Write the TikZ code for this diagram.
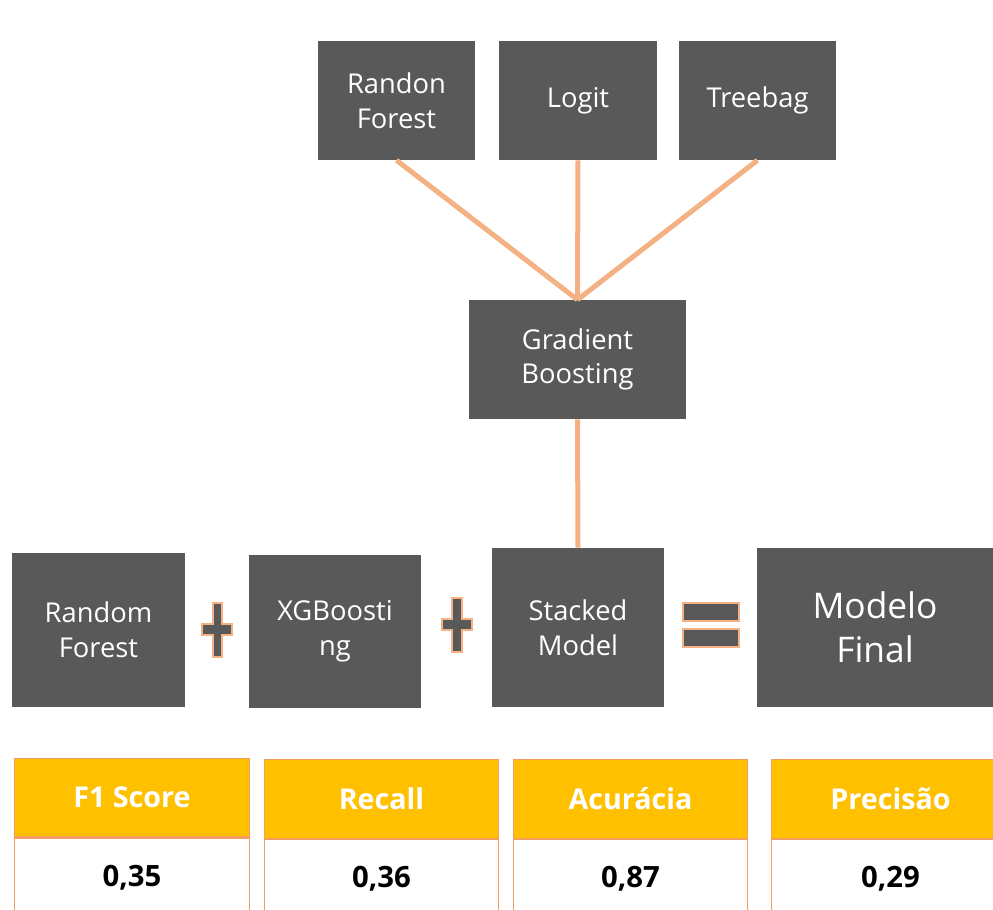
\documentclass[tikz,border=0pt]{standalone}
\usepackage{fontspec}
\setmainfont{Open Sans}
\definecolor{boxgray}{HTML}{595959}
\definecolor{linkorange}{HTML}{F4B183}
\definecolor{cellborder}{HTML}{F29D62}
\definecolor{headgold}{HTML}{FFC000}
\begin{document}
\begin{tikzpicture}[x=0.75pt,y=-0.75pt,
  model/.style={fill=boxgray,text=white,inner sep=0pt,align=center,
    font=\fontsize{20.5}{26}\selectfont},
  big/.style={model,font=\fontsize{26.5}{33}\selectfont},
  link/.style={draw=linkorange,line width=3.75pt},
  sign/.style={fill=boxgray,draw=linkorange,line width=1.6pt,line join=miter},
  head/.style={fill=headgold,draw=cellborder,line width=0.9pt,text=white,inner sep=0pt,
    minimum width=176pt,minimum height=59pt,font=\fontsize{21.5}{24}\selectfont\bfseries},
  val/.style={fill=white,draw=cellborder,line width=0.9pt,text=black,inner sep=0pt,
    minimum width=176pt,minimum height=60pt},
  num/.style={text=black,font=\fontsize{22}{24}\selectfont\bfseries}]
\clip (0,0) rectangle (993,910);

% base learners of the stacked model
\node[model,minimum width=117.75pt,minimum height=89.25pt] (rf) at (396.5,100.5) {Randon\\Forest};
\node[model,minimum width=118.5pt,minimum height=89.25pt] (lg) at (578,100.5) {Logit};
\node[model,minimum width=117.75pt,minimum height=89.25pt] (tb) at (757.5,100.5) {Treebag};

% meta learner
\node[model,minimum width=162.75pt,minimum height=89.25pt] (gb) at (577.5,359.5) {Gradient\\Boosting};

% final ensemble row
\node[model,minimum width=129.75pt,minimum height=115.5pt] (rfb) at (98.5,630) {Random\\Forest};
\node[model,minimum width=129pt,minimum height=114.75pt] (xgb) at (335,631.5) {XGBoosti\\ng};
\node[model,minimum width=129pt,minimum height=119.25pt] (sm) at (578,627.5) {Stacked\\Model};
\node[big,minimum width=177pt,minimum height=119.25pt] (mf) at (875,627.5) {Modelo\\Final};

% connectors
\draw[link] (rf.south) -- (gb.north);
\draw[link] (lg.south) -- (gb.north);
\draw[link] (tb.south) -- (gb.north);
\draw[link] (gb.south) -- (sm.north);

% plus and equal signs
\draw[sign] (213,603) -- (222,603) -- (222,624) -- (232,624) -- (232,635) -- (222,635)
  -- (222,657) -- (213,657) -- (213,635) -- (202,635) -- (202,624) -- (213,624) -- cycle;
\draw[sign] (452,598) -- (462,598) -- (462,619) -- (472,619) -- (472,630) -- (462,630)
  -- (462,652) -- (452,652) -- (452,630) -- (442,630) -- (442,619) -- (452,619) -- cycle;
\draw[sign] (683,603) rectangle (739,621);
\draw[sign] (683,629) rectangle (739,647);

% metric tables
\node[head] (h1) at (132,797.5) {F1 Score};
\node[val,anchor=north] (v1) at (h1.south) {};
\node[num] (t1) at (132,878) {0,35};

\node[head] (h2) at (381.5,799) {Recall};
\node[val,anchor=north] (v2) at (h2.south) {};
\node[num] (t2) at (381.5,879) {0,36};

\node[head] (h3) at (630.5,799) {Acurácia};
\node[val,anchor=north] (v3) at (h3.south) {};
\node[num] (t3) at (630.5,879) {0,87};

\node[head,minimum width=178pt] (h4) at (890.5,799) {Precisão};
\node[val,anchor=north,minimum width=178pt] (v4) at (h4.south) {};
\node[num] (t4) at (890.5,879) {0,29};
\end{tikzpicture}
\end{document}
